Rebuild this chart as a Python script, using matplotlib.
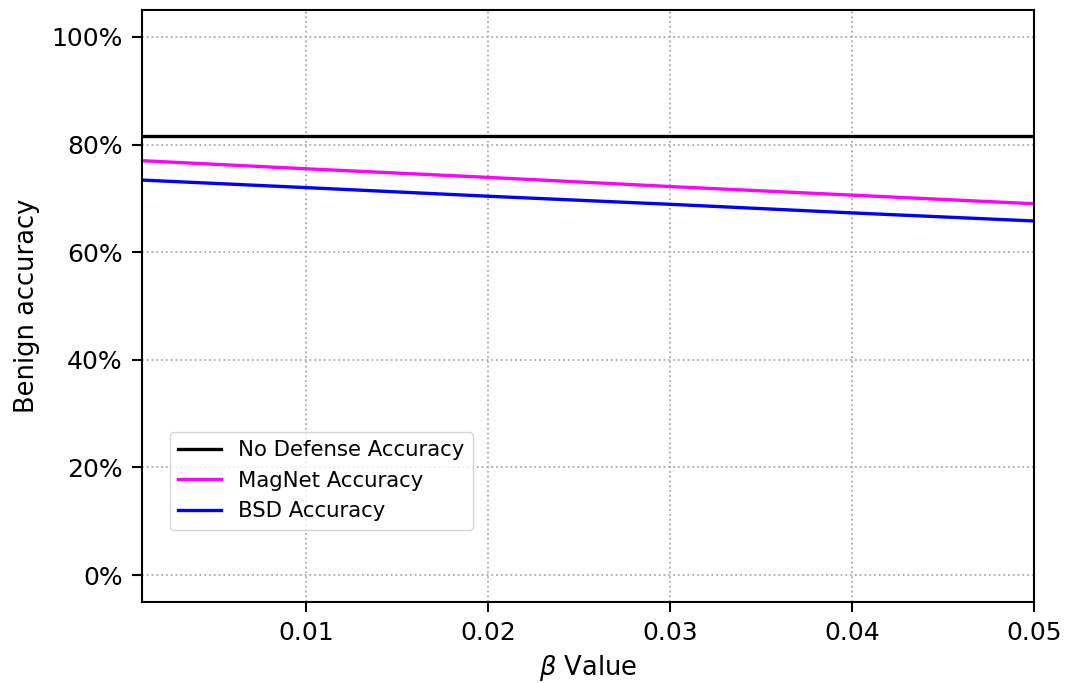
import matplotlib
matplotlib.use("Agg")
import matplotlib.pyplot as plt
from matplotlib.ticker import PercentFormatter

beta = [0.001, 0.01, 0.02, 0.03, 0.04, 0.05]
no_defense = [81.6, 81.6, 81.6, 81.6, 81.6, 81.6]
magnet = [77.0, 75.5, 73.9, 72.2, 70.6, 69.0]
bsd = [73.4, 72.0, 70.4, 68.9, 67.3, 65.8]
xticks = [0.01, 0.02, 0.03, 0.04, 0.05]
yticks = [0, 20, 40, 60, 80, 100]

fig = plt.figure(figsize=(10.68, 6.83), dpi=100)
ax = fig.add_axes([142/1068, 1-602/683, (1034-142)/1068, (602-10)/683])
ax.plot(beta, no_defense, color='black', lw=2.4, label='No Defense Accuracy')
ax.plot(beta, magnet, color='magenta', lw=2.4, label='MagNet Accuracy')
ax.plot(beta, bsd, color='blue', lw=2.4, label='BSD Accuracy')
ax.set_xlim(0.001, 0.05)
ax.set_ylim(-5, 105)
ax.set_xticks(xticks)
ax.set_xticklabels([f"{t:.2f}" for t in xticks])
ax.set_yticks(yticks)
ax.yaxis.set_major_formatter(PercentFormatter(decimals=0))
ax.tick_params(labelsize=18, length=7, width=1.5, pad=7)
for s in ax.spines.values():
    s.set_linewidth(1.5)
ax.grid(True, linestyle=':', color='#aaaaaa', lw=1.3)
ax.set_xlabel(r'$\beta$ Value', fontsize=18.5, labelpad=5.5)
ax.set_ylabel('Benign accuracy', fontsize=18.5, labelpad=8)
ax.legend(loc='lower left', bbox_to_anchor=(0.031, 0.122), borderaxespad=0, fontsize=15.3)
fig.savefig('out.png', dpi=100)
